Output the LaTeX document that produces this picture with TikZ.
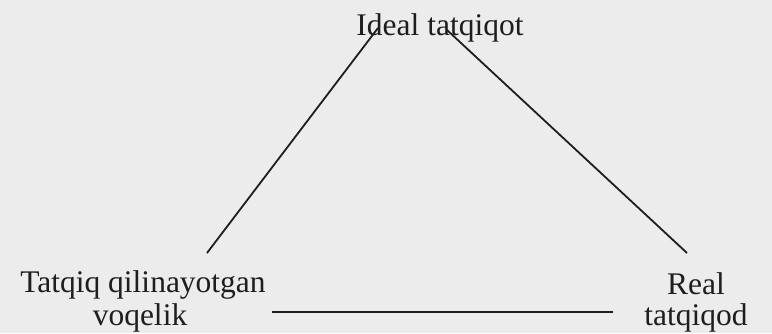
\documentclass[tikz,border=0pt]{standalone}
\usepackage{fontspec}
\setmainfont{Liberation Serif}
\definecolor{paper}{HTML}{ECECEC}
\definecolor{ink}{HTML}{1E1E1E}
\begin{document}
\begin{tikzpicture}[x=1pt,y=1pt,
  lbl/.style={inner sep=0pt, text=ink, align=center, font=\fontsize{31.5}{33.5}\selectfont},
  edge/.style={draw=ink, line width=1.8pt}]
\fill[paper] (0,0) rectangle (772,333);
\useasboundingbox (0,0) rectangle (772,333);
% labels (y = 333 - pixel row)
\node[lbl, anchor=base] (ideal) at (440,298) {Ideal tatqiqot};
\node[lbl, anchor=base] (tatqiq) at (143,41) {Tatqiq qilinayotgan};
\node[lbl, anchor=base] (voqelik) at (140,8) {voqelik};
\node[lbl, anchor=base] (real) at (696,39) {Real};
\node[lbl, anchor=base] (tatqiqod) at (696,8) {tatqiqod};
% line ends
\coordinate (lt) at (378,305);
\coordinate (lb) at (207,80);
\coordinate (rt) at (447,303);
\coordinate (rb) at (687,80);
\coordinate (bl) at (272,21);
\coordinate (br) at (613,21);
\draw[edge] (lt) -- (lb);
\draw[edge] (rt) -- (rb);
\draw[edge] (bl) -- (br);
\end{tikzpicture}
\end{document}
